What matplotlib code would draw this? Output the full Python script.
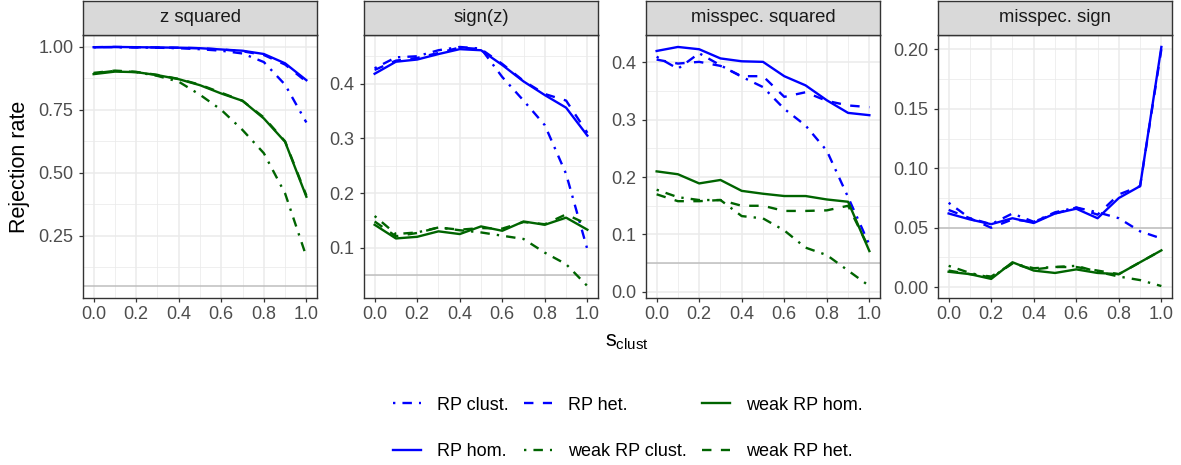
import numpy as np
import matplotlib
matplotlib.use('Agg')
import matplotlib.pyplot as plt
from matplotlib.ticker import MultipleLocator, FormatStrFormatter

plt.rcParams['font.family'] = ['Liberation Sans', 'DejaVu Sans']
plt.rcParams['mathtext.fontset'] = 'custom'
plt.rcParams['mathtext.rm'] = 'Liberation Sans'

s_clust = [0.0, 0.1, 0.2, 0.3, 0.4, 0.5, 0.6, 0.7, 0.8, 0.9, 1.0]
panels = ['z squared', 'sign(z)', 'misspec. squared', 'misspec. sign']
series_names = ['RP clust.', 'RP hom.', 'RP het.', 'weak RP clust.', 'weak RP hom.', 'weak RP het.']
level = 0.05

# z squared
zsq_rp_clust = [0.999, 0.999, 0.998, 0.997, 0.995, 0.991, 0.985, 0.974, 0.940, 0.850, 0.700]
zsq_rp_hom = [0.999, 1.000, 0.999, 0.998, 0.997, 0.995, 0.990, 0.985, 0.972, 0.935, 0.868]
zsq_rp_het = [0.999, 1.000, 0.999, 0.998, 0.997, 0.995, 0.990, 0.983, 0.968, 0.930, 0.862]
zsq_weak_clust = [0.895, 0.905, 0.900, 0.885, 0.862, 0.810, 0.750, 0.670, 0.578, 0.418, 0.167]
zsq_weak_hom = [0.892, 0.902, 0.900, 0.888, 0.872, 0.848, 0.815, 0.786, 0.716, 0.623, 0.405]
zsq_weak_het = [0.897, 0.906, 0.901, 0.889, 0.873, 0.850, 0.818, 0.786, 0.720, 0.625, 0.410]

# sign(z)
sgn_rp_clust = [0.428, 0.448, 0.450, 0.461, 0.467, 0.464, 0.412, 0.369, 0.324, 0.235, 0.097]
sgn_rp_hom = [0.418, 0.440, 0.444, 0.454, 0.463, 0.461, 0.434, 0.404, 0.379, 0.356, 0.305]
sgn_rp_het = [0.425, 0.442, 0.447, 0.456, 0.466, 0.463, 0.436, 0.405, 0.381, 0.369, 0.310]
sgn_weak_clust = [0.158, 0.125, 0.128, 0.137, 0.132, 0.128, 0.122, 0.116, 0.091, 0.070, 0.030]
sgn_weak_hom = [0.142, 0.117, 0.120, 0.130, 0.125, 0.139, 0.131, 0.148, 0.142, 0.155, 0.133]
sgn_weak_het = [0.148, 0.121, 0.127, 0.137, 0.133, 0.136, 0.135, 0.147, 0.143, 0.161, 0.143]

# misspec. squared
msq_rp_clust = [0.410, 0.389, 0.416, 0.395, 0.375, 0.357, 0.319, 0.290, 0.246, 0.165, 0.082]
msq_rp_hom = [0.420, 0.427, 0.423, 0.407, 0.402, 0.401, 0.376, 0.360, 0.334, 0.312, 0.308]
msq_rp_het = [0.405, 0.398, 0.401, 0.394, 0.376, 0.376, 0.340, 0.348, 0.333, 0.325, 0.322]
msq_weak_clust = [0.178, 0.165, 0.160, 0.160, 0.132, 0.128, 0.107, 0.077, 0.064, 0.037, 0.010]
msq_weak_hom = [0.210, 0.205, 0.189, 0.195, 0.176, 0.171, 0.167, 0.167, 0.161, 0.157, 0.071]
msq_weak_het = [0.170, 0.158, 0.158, 0.160, 0.150, 0.150, 0.141, 0.141, 0.142, 0.150, 0.075]

# misspec. sign
msg_rp_clust = [0.071, 0.058, 0.053, 0.062, 0.055, 0.063, 0.067, 0.063, 0.058, 0.047, 0.041]
msg_rp_hom = [0.062, 0.057, 0.053, 0.058, 0.054, 0.062, 0.066, 0.058, 0.075, 0.085, 0.202]
msg_rp_het = [0.065, 0.058, 0.050, 0.057, 0.055, 0.062, 0.067, 0.061, 0.078, 0.085, 0.200]
msg_weak_clust = [0.018, 0.012, 0.008, 0.020, 0.016, 0.017, 0.018, 0.013, 0.009, 0.006, 0.001]
msg_weak_hom = [0.013, 0.011, 0.007, 0.021, 0.014, 0.012, 0.015, 0.012, 0.011, 0.021, 0.031]
msg_weak_het = [0.014, 0.011, 0.009, 0.020, 0.015, 0.017, 0.017, 0.014, 0.011, 0.021, 0.031]

panel_data = [
    [zsq_rp_clust, zsq_rp_hom, zsq_rp_het, zsq_weak_clust, zsq_weak_hom, zsq_weak_het],
    [sgn_rp_clust, sgn_rp_hom, sgn_rp_het, sgn_weak_clust, sgn_weak_hom, sgn_weak_het],
    [msq_rp_clust, msq_rp_hom, msq_rp_het, msq_weak_clust, msq_weak_hom, msq_weak_het],
    [msg_rp_clust, msg_rp_hom, msg_rp_het, msg_weak_clust, msg_weak_hom, msg_weak_het],
]

blue = '#0000FF'
green = '#006400'
dotdash = (0, (1, 3, 4, 3))
dashed = (0, (4, 4))
styles = [(blue, dotdash), (blue, '-'), (blue, dashed),
          (green, dotdash), (green, '-'), (green, dashed)]

y_major = [0.25, 0.1, 0.1, 0.05]
y_fmt = ['%.2f', '%.1f', '%.1f', '%.2f']

W, H = 1181, 465
lefts = [83, 364, 646, 938]
pw = 234
top, bottom = 35, 298

fig = plt.figure(figsize=(W / 100, H / 100), dpi=100)

handles = []
for i, name in enumerate(panels):
    ax = fig.add_axes([lefts[i] / W, 1 - bottom / H, pw / W, (bottom - top) / H])
    ax.axhline(level, color='#BEBEBE', lw=1.1, zorder=1)
    for vals, (col, ls), lab in zip(panel_data[i], styles, series_names):
        ln, = ax.plot(s_clust, vals, color=col, linestyle=ls, lw=1.7, zorder=3, label=lab)
        if i == 0:
            handles.append(ln)

    allv = np.concatenate([np.array(v) for v in panel_data[i]])
    lo = min(allv.min(), level)
    hi = allv.max()
    pad = 0.05 * (hi - lo)
    ax.set_ylim(lo - pad, hi + pad)
    ax.set_xlim(-0.05, 1.05)

    ax.xaxis.set_major_locator(MultipleLocator(0.2))
    ax.xaxis.set_minor_locator(MultipleLocator(0.1))
    ax.xaxis.set_major_formatter(FormatStrFormatter('%.1f'))
    ax.yaxis.set_major_locator(MultipleLocator(y_major[i]))
    ax.yaxis.set_minor_locator(MultipleLocator(y_major[i] / 2))
    ax.yaxis.set_major_formatter(FormatStrFormatter(y_fmt[i]))

    ax.grid(which='major', color='#EBEBEB', lw=1.1, zorder=0)
    ax.grid(which='minor', color='#EBEBEB', lw=0.55, zorder=0)
    ax.set_axisbelow(True)
    ax.tick_params(which='major', length=3, width=0.9, color='#333333',
                   labelcolor='#4D4D4D', labelsize=13)
    ax.tick_params(axis='x', which='major', pad=3)
    ax.tick_params(axis='y', which='major', pad=4)
    ax.tick_params(which='minor', length=0)
    for sp in ax.spines.values():
        sp.set_color('#333333')
        sp.set_linewidth(1.0)

    # facet strip
    st = fig.add_axes([lefts[i] / W, 1 - top / H, pw / W, (top - 1) / H])
    st.set_facecolor('#D9D9D9')
    st.set_xticks([])
    st.set_yticks([])
    for sp in st.spines.values():
        sp.set_color('#333333')
        sp.set_linewidth(1.0)
    st.text(0.5, 0.5, name, ha='center', va='center', fontsize=13.3,
            color='#1A1A1A', transform=st.transAxes)

fig.text(20 / W, 1 - 166.5 / H, 'Rejection rate', rotation=90, ha='center',
         va='center', fontsize=15.5, color='black')
fig.text(627 / W, 1 - 341 / H, r'$\mathregular{s_{clust}}$', ha='center',
         va='center', fontsize=15.5, color='black')

fig.legend(handles=handles, loc='center', bbox_to_anchor=(628 / W, 1 - 428.5 / H),
           ncol=3, frameon=False, fontsize=13, handlelength=1.55,
           handletextpad=0.87, columnspacing=0.86, labelspacing=1.65, borderpad=0)

fig.savefig('out.png', dpi=100)
